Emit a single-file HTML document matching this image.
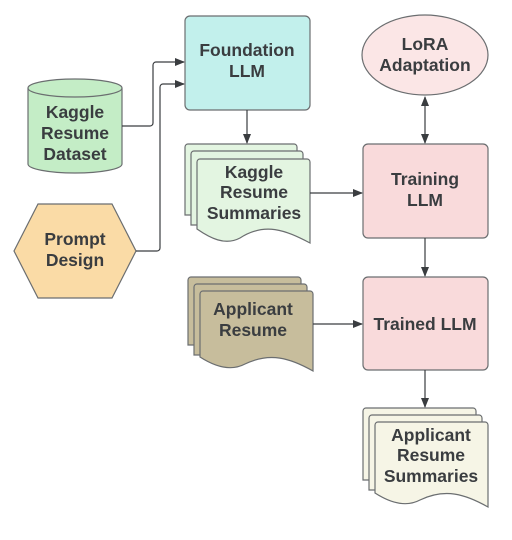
<!DOCTYPE html>
<html><head><meta charset="utf-8"><style>
html,body{margin:0;padding:0;background:#fff;}
svg{display:block;}
text{font-family:"Liberation Sans",sans-serif;font-weight:bold;font-size:17.5px;fill:#3a3d40;text-anchor:middle;}
</style></head><body>
<svg width="512" height="540" viewBox="0 0 512 540" xmlns="http://www.w3.org/2000/svg">
<defs>
<marker id="ah" markerWidth="10" markerHeight="10" refX="9" refY="5" orient="auto" markerUnits="userSpaceOnUse">
<path d="M0,1 L10,5 L0,9 Z" fill="#3a3d40"/></marker>
<marker id="ahs" markerWidth="10" markerHeight="10" refX="1" refY="5" orient="auto" markerUnits="userSpaceOnUse">
<path d="M10,1 L0,5 L10,9 Z" fill="#3a3d40"/></marker>
</defs>
<g stroke="#6b6e70" stroke-width="1.2">
<rect x="185" y="16" width="125" height="94" rx="5" fill="#c2f0ec"/>
<path d="M28,88 V164 A47,9 0 0 0 122,164 V88" fill="#c4edc6"/>
<ellipse cx="75" cy="88" rx="47" ry="9" fill="#c4edc6"/>
<polygon points="14,251 38,204 112,204 136,251 112,298 38,298" fill="#fadba6"/>
<ellipse cx="425" cy="55" rx="63" ry="40" fill="#fbe6e6"/>
<rect x="363" y="144" width="125" height="94" rx="5" fill="#f9dadb"/>
<rect x="363" y="277" width="125" height="93" rx="5" fill="#f9dadb"/>
<path d="M185,147 a3,3 0 0 1 3,-3 H294 a3,3 0 0 1 3,3 V215 H185 Z" fill="#e3f5e1"/>
<path d="M191,154 a3,3 0 0 1 3,-3 H300 a3,3 0 0 1 3,3 V225 H191 Z" fill="#e3f5e1"/>
<path d="M197,162 a3,3 0 0 1 3,-3 H307 a3,3 0 0 1 3,3 V243 C285,230 265,222 240,238 C225,246 210,238 197,229 Z" fill="#e3f5e1"/>
<path d="M188,280 a3,3 0 0 1 3,-3 H298 a3,3 0 0 1 3,3 V345 H188 Z" fill="#c7bd9c"/>
<path d="M194,287 a3,3 0 0 1 3,-3 H304 a3,3 0 0 1 3,3 V355 H194 Z" fill="#c7bd9c"/>
<path d="M200,294 a3,3 0 0 1 3,-3 H310 a3,3 0 0 1 3,3 V371 C290,358 270,352 245,364 C230,372 214,366 200,357 Z" fill="#c7bd9c"/>
<path d="M363,411 a3,3 0 0 1 3,-3 H473 a3,3 0 0 1 3,3 V480 H363 Z" fill="#f6f5e6"/>
<path d="M369,418 a3,3 0 0 1 3,-3 H479 a3,3 0 0 1 3,3 V490 H369 Z" fill="#f6f5e6"/>
<path d="M375,425 a3,3 0 0 1 3,-3 H485 a3,3 0 0 1 3,3 V507 C465,494 445,488 420,500 C405,508 389,502 375,493 Z" fill="#f6f5e6"/>
</g>
<g stroke="#3a3d40" stroke-width="1.2" fill="none">
<path d="M122,126 H150 a3,3 0 0 0 3,-3 V65 a3,3 0 0 1 3,-3 H184" marker-end="url(#ah)"/>
<path d="M136,251 H157 a3,3 0 0 0 3,-3 V87 a3,3 0 0 1 3,-3 H184" marker-end="url(#ah)"/>
<path d="M247,110 V143" marker-end="url(#ah)"/>
<path d="M310,193 H362" marker-end="url(#ah)"/>
<path d="M425,97 V143" marker-start="url(#ahs)" marker-end="url(#ah)"/>
<path d="M425,238 V276" marker-end="url(#ah)"/>
<path d="M313,324 H362" marker-end="url(#ah)"/>
<path d="M425,370 V407" marker-end="url(#ah)"/>
</g>
<text x="247" y="56">Foundation</text><text x="247" y="77">LLM</text>
<text x="75" y="118">Kaggle</text><text x="75" y="139">Resume</text><text x="75" y="160">Dataset</text>
<text x="75" y="245">Prompt</text><text x="75" y="266">Design</text>
<text x="425" y="50">LoRA</text><text x="425" y="71">Adaptation</text>
<text x="425" y="185">Training</text><text x="425" y="206">LLM</text>
<text x="425" y="330">Trained LLM</text>
<text x="254" y="178">Kaggle</text><text x="254" y="198">Resume</text><text x="254" y="219">Summaries</text>
<text x="253" y="315">Applicant</text><text x="253" y="336">Resume</text>
<text x="431" y="441">Applicant</text><text x="431" y="461">Resume</text><text x="431" y="482">Summaries</text>
</svg>
</body></html>
